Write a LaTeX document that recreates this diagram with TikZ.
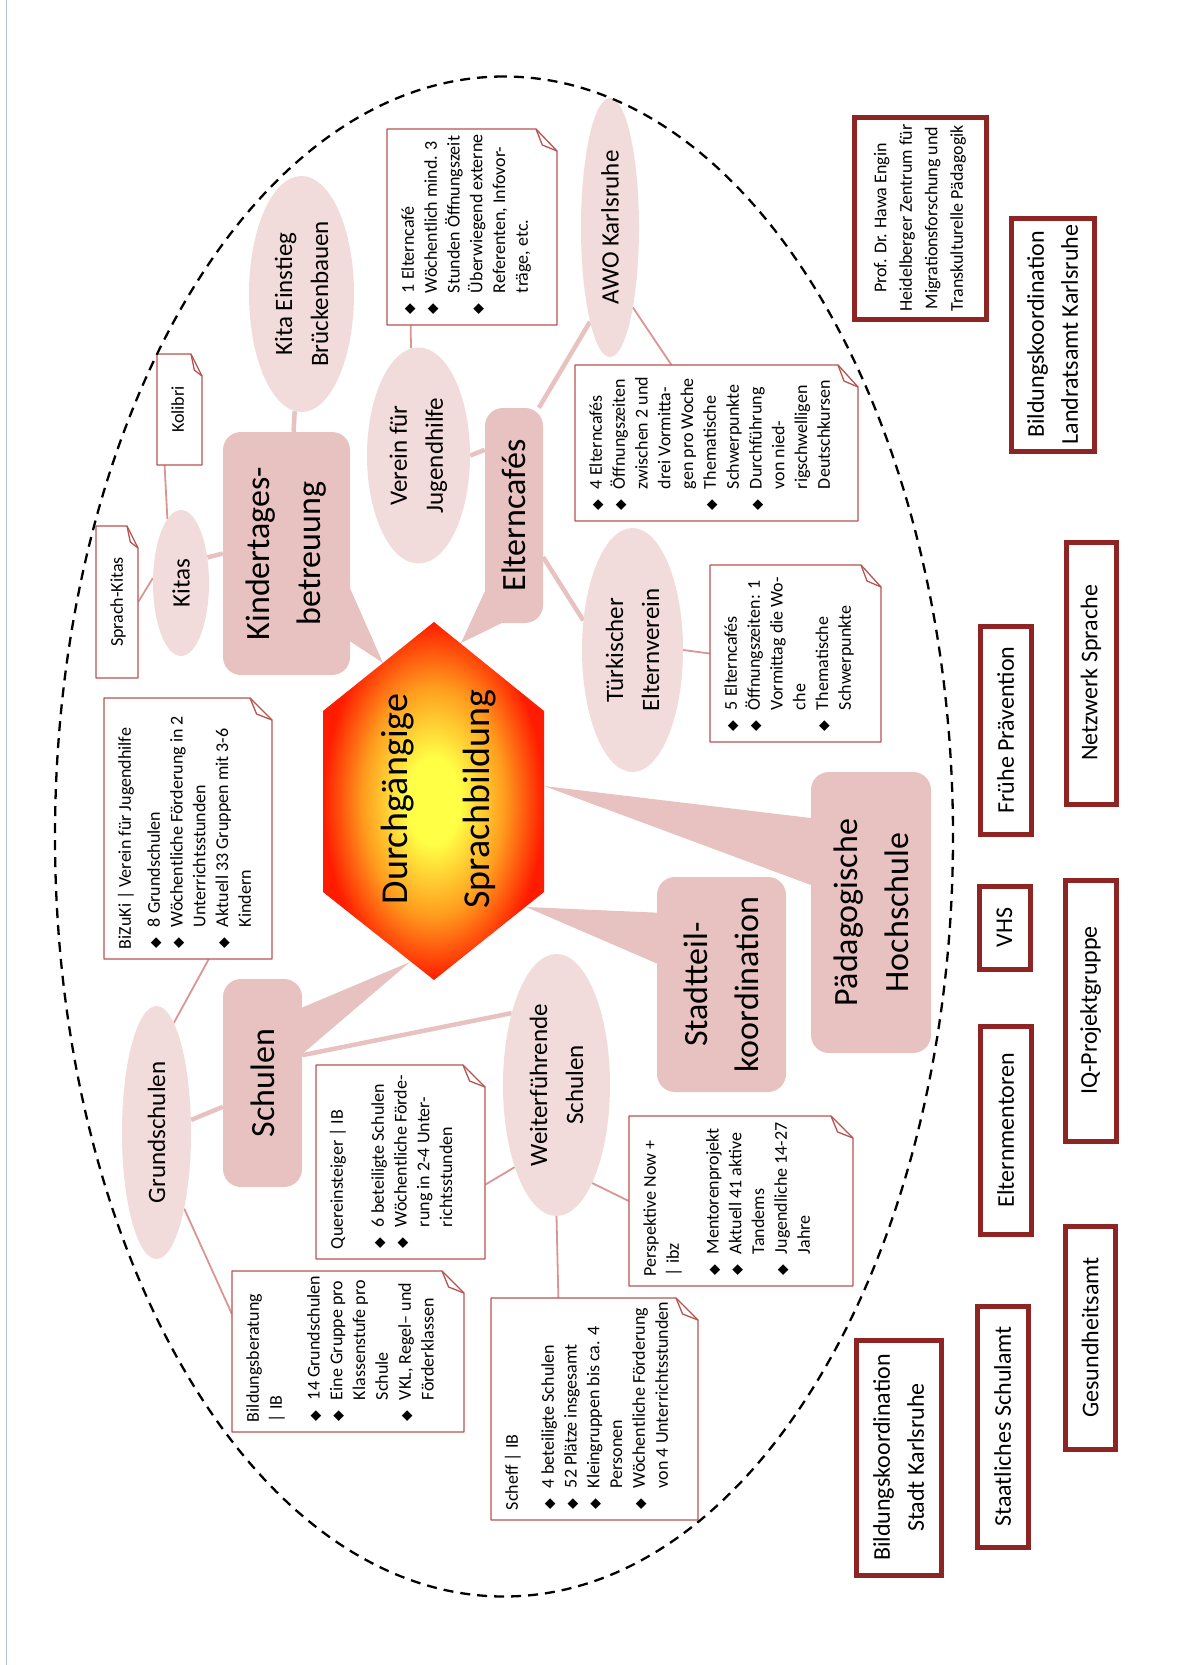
\documentclass[tikz,border=0pt]{standalone}
\usepackage{fontspec}
\setmainfont{Carlito}
\newfontfamily\diafont{DejaVu Sans}
\usetikzlibrary{shapes.geometric,backgrounds}

\definecolor{bubblefill}{HTML}{E8C2C1}
\definecolor{ovalfill}{HTML}{F2DCDB}
\definecolor{memoline}{HTML}{B85450}
\definecolor{memolink}{HTML}{D99694}
\definecolor{partnerred}{HTML}{8F2424}
\definecolor{pageedge}{HTML}{B4BCD2}
\definecolor{hexyel}{HTML}{FFFF46}
\definecolor{hexorg}{HTML}{FF9C1E}
\definecolor{hexred}{HTML}{FF1C00}

\pgfdeclareradialshading{hexglow}{\pgfpoint{0bp}{0bp}}{color(0bp)=(hexyel); color(6bp)=(hexyel); color(16bp)=(hexorg); color(25bp)=(hexred); color(50bp)=(hexred)}

\newcommand{\memofont}{\fontsize{18}{22.8}\selectfont\raggedright\leftskip=10pt\relax}
\newcommand{\bitem}[1]{\makebox[22pt][l]{\hspace{1pt}{\diafont\fontsize{14}{14}\selectfont ◆}}\mbox{#1}}
\newcommand{\bcont}[1]{\hspace*{22pt}\mbox{#1}}
% memo with folded corner: name, x1, y1, x2, y2, fold, text
\newcommand{\memo}[7]{%
  \path[memo] (#2,#3) -- (#2,#5) -- (#4,#5) -- (#4,#3+#6) -- (#4-22,#3) -- cycle;
  \draw[memo,fill=none] (#4,#3+#6) -- (#4-16,#3+0.7*#6) -- (#4-22,#3);
  \path (#2,#3) -- (#4,#5) node[midway,inner sep=0pt] (#1)
    {\parbox[c][\dimexpr#5pt-#3pt\relax][t]{\dimexpr#4pt-#2pt\relax}{\memofont\vspace*{11pt}\strut#7}};}

\begin{document}
\begin{tikzpicture}[x=1pt,y=1pt,
  bubble/.style={fill=bubblefill,rounded corners=18pt,inner sep=0pt,align=center,font=\fontsize{34}{51}\selectfont},
  oval/.style={ellipse,fill=ovalfill,inner sep=0pt,align=center,font=\fontsize{25}{36}\selectfont},
  memo/.style={draw=memoline,fill=white,line width=1.3pt,line join=round},
  partner/.style={draw=partnerred,line width=5pt,fill=white,inner sep=0pt,align=center,font=\fontsize{24}{34}\selectfont},
  tail/.style={fill=bubblefill},
  lnk/.style={draw=bubblefill,line width=4.5pt},
  mlnk/.style={draw=memolink,line width=1.8pt}
]
\begin{scope}[shift={(1182,-1665)},rotate=90,transform shape]
\useasboundingbox (0,0) rectangle (1665,1182);
\begin{pgfonlayer}{background}
  \fill[white] (0,0) rectangle (1665,1182);
\end{pgfonlayer}
\draw[pageedge,line width=1pt] (0,1176) -- (1665,1176);

% --- callout tails ---
\coordinate (tipK) at (1002,799);
\coordinate (tipE) at (1022,721);
\coordinate (tipS) at (703,772);
\coordinate (tipT) at (758,656);
\coordinate (tipP) at (879,638);
\fill[tail] (1095,840) -- (tipK) -- (1029,840) -- cycle;
\fill[tail] (1085,692) -- (tipE) -- (1046,672) -- cycle;
\fill[tail] (654,888) -- (tipS) -- (604,888) -- cycle;
\fill[tail] (752,517) -- (tipT) -- (698,517) -- cycle;
\fill[tail] (846,363) -- (tipP) -- (777,363) -- cycle;

% --- centre ---
\shade[shading=hexglow] (685,748) -- (773,859) -- (954,859) -- (1043,748) -- (954,638) -- (773,638) -- cycle;
\node[align=center,font=\fontsize{38}{82}\selectfont] (core) at (866,743) {Durchgängige\\Sprachbildung};

% --- main fields ---
\node[bubble,minimum width=243pt,minimum height=127pt] (kind) at (1111.5,895.5) {Kindertages-\\betreuung};
\node[bubble,minimum width=215pt,minimum height=58pt] (elt) at (1149.5,668) {Elterncafés};
\node[bubble,minimum width=208pt,minimum height=79pt] (schul) at (582,919.5) {Schulen};
\node[bubble,minimum width=215pt,minimum height=129pt] (stk) at (680.5,460.5) {Stadtteil-\\koordination};
\node[bubble,minimum width=281pt,minimum height=120pt] (paed) at (752.5,311) {Pädagogische\\Hochschule};

% --- providers ---
\node[oval,minimum width=236pt,minimum height=105pt] (kitae) at (1371,880.5) {Kita Einstieg\\Brückenbauen};
\node[oval,minimum width=216pt,minimum height=103pt] (verein) at (1209.5,763.5) {Verein für\\Jugendhilfe};
\node[oval,minimum width=259pt,minimum height=58pt] (awo) at (1437.5,572) {AWO Karlsruhe};
\node[oval,minimum width=146pt,minimum height=56pt] (kitas) at (1082,1001) {Kitas};
\node[oval,minimum width=253pt,minimum height=69pt] (grund) at (532.5,1025.5) {Grundschulen};
\node[oval,minimum width=244pt,minimum height=101pt] (turk) at (1015,549.5) {Türkischer\\Elternverein};
\node[oval,minimum width=262pt,minimum height=107pt] (weit) at (580,625.5) {Weiterführende\\Schulen};

% --- memos ---
\memo{nA}{1340}{625}{1536}{795}{21}{\bitem{1 Elterncafé}\\\bitem{Wöchentlich mind. 3}\\\bcont{Stunden Öffnungszeit}\\\bitem{Überwiegend externe}\\\bcont{Referenten, Infovor-}\\\bcont{träge, etc.}}
\memo{nVier}{1144}{324}{1300}{607}{20}{\bitem{4 Elterncafés}\\\bitem{Öffnungszeiten}\\\bcont{zwischen 2 und}\\\bcont{drei Vormitta-}\\\bcont{gen pro Woche}\\\bitem{Thematische}\\\bcont{Schwerpunkte}\\\bitem{Durchführung}\\\bcont{von nied-}\\\bcont{rigschwelligen}\\\bcont{Deutschkursen}}
\memo{nFuenf}{923}{301}{1100}{472}{20}{\bitem{5 Elterncafés}\\\bitem{Öffnungszeiten: 1}\\\bcont{Vormittag die Wo-}\\\bcont{che}\\\bitem{Thematische}\\\bcont{Schwerpunkte}}
\memo{nKol}{1200}{980}{1311}{1025}{11}{\centering Kolibri}
\memo{nSpr}{987}{1044}{1139}{1086}{11}{\centering Sprach-Kitas}
\memo{nBiz}{706}{910}{967}{1078}{22}{\mbox{BiZuKi | Verein für Jugendhilfe}\\[6pt]\bitem{8 Grundschulen}\\\bitem{Wöchentliche Förderung in 2}\\\bcont{Unterrichtsstunden}\\\bitem{Aktuell 33 Gruppen mit 3-6}\\\bcont{Kindern}}
\memo{nBil}{233}{718}{394}{950}{22}{\mbox{Bildungsberatung}\\\mbox{| IB}\\[15pt]\bitem{14 Grundschulen}\\\bitem{Eine Gruppe pro}\\\bcont{Klassenstufe pro}\\\bcont{Schule}\\\bitem{VKL, Regel– und}\\\bcont{Förderklassen}}
\memo{nQue}{406}{697}{600}{866}{22}{\mbox{Quereinsteiger | IB}\\[18pt]\bitem{6 beteiligte Schulen}\\\bitem{Wöchentliche Förde-}\\\bcont{rung in 2-4 Unter-}\\\bcont{richtsstunden}}
\memo{nSch}{145}{484}{367}{691}{22}{\mbox{Scheff | IB}\\[13pt]\bitem{4 beteiligte Schulen}\\\bitem{52 Plätze insgesamt}\\\bitem{Kleingruppen bis ca. 4}\\\bcont{Personen}\\\bitem{Wöchentliche Förderung}\\\bcont{von 4 Unterrichtsstunden}}
\memo{nPer}{379}{329}{549}{553}{22}{\mbox{Perspektive Now +}\\\mbox{| ibz}\\[17pt]\bitem{Mentorenprojekt}\\\bitem{Aktuell 41 aktive}\\\bcont{Tandems}\\\bitem{Jugendliche 14-27}\\\bcont{Jahre}}

% --- partners outside ---
\node[partner,minimum width=202pt,minimum height=132pt,font=\fontsize{18}{25.5}\selectfont] (prof) at (1447,262) {Prof. Dr. Hawa Engin\\Heidelberger Zentrum für\\Migrationsforschung und\\Transkulturelle Pädagogik};
\node[partner,minimum width=233pt,minimum height=83pt] (landr) at (1330.5,129.5) {Bildungskoordination\\Landratsamt Karlsruhe};
\node[partner,minimum width=262pt,minimum height=50pt] (netz) at (992,91) {Netzwerk Sprache};
\node[partner,minimum width=208pt,minimum height=51pt] (fruehe) at (935,176.5) {Frühe Prävention};
\node[partner,minimum width=83pt,minimum height=51pt] (vhs) at (737.5,177.5) {VHS};
\node[partner,minimum width=261pt,minimum height=51pt] (iq) at (654.5,91.5) {IQ-Projektgruppe};
\node[partner,minimum width=208pt,minimum height=51pt] (elm) at (535,176.5) {Elternmentoren};
\node[partner,minimum width=223pt,minimum height=50pt] (gesund) at (327.5,92) {Gesundheitsamt};
\node[partner,minimum width=241pt,minimum height=51pt] (samt) at (238.5,179.5) {Staatliches Schulamt};
\node[partner,minimum width=235pt,minimum height=85pt] (stadt) at (207.5,283.5) {Bildungskoordination\\Stadt Karlsruhe};

% --- links ---
\begin{scope}[on background layer]
\draw[lnk] (kind) -- (kitae);
\draw[lnk] (kitas.-46) -- (kind.north);
\draw[lnk] (verein.south) -- (elt.24);
\draw[lnk] (elt.-13) -- (awo.168);
\draw[lnk] (elt.215) -- (turk.59);
\draw[lnk] (schul.121) -- (grund.-70);
\draw[lnk] (schul.-55) -- (weit.32);
\draw[mlnk] (verein.4) -- (nA.148);
\draw[mlnk] (kitas.12) -- (nKol.165);
\draw[mlnk] (kitas.80) -- (nSpr.south);
\draw[mlnk] (grund.-9) -- (nBiz.189);
\draw[mlnk] (grund.200) -- (nBil.72);
\draw[mlnk] (weit.153) -- (nQue.255);
\draw[mlnk] (weit.west) -- (nSch.18);
\draw[mlnk] (weit.200) -- (nPer.north);
\draw[mlnk] (awo.196) -- (nVier.30);
\draw[mlnk] (turk.south) -- (nFuenf.north);
\end{scope}

% network border
\draw[line width=2.3pt,dash pattern=on 10pt off 7pt] (828.5,678) ellipse [x radius=760,y radius=449];
\end{scope}
\end{tikzpicture}
\end{document}
